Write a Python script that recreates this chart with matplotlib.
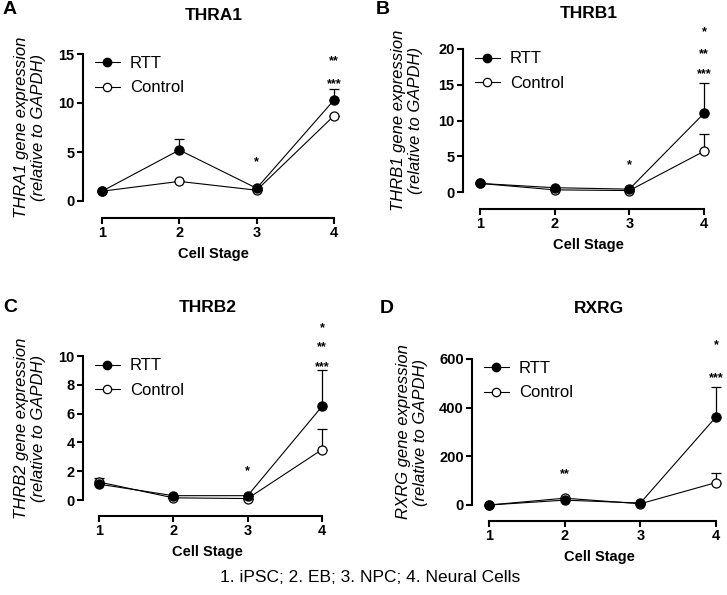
import matplotlib.pyplot as plt
from matplotlib.lines import Line2D
import numpy as np

plt.rcParams['font.family'] = ['Liberation Sans', 'DejaVu Sans']

stages = [1, 2, 3, 4]

# panel A - THRA1
thra1_rtt = [1.0, 5.2, 1.3, 10.3]
thra1_rtt_err = [0.0, 1.1, 0.0, 1.1]
thra1_ctrl = [1.0, 2.0, 1.1, 8.7]
thra1_ctrl_err = [0.0, 0.0, 0.0, 0.0]
thra1_stars = [(3, 4.0, '*'), (4, 14.3, '**'), (4, 11.9, '***')]

# panel B - THRB1
thrb1_rtt = [1.2, 0.6, 0.4, 11.0]
thrb1_rtt_err = [0.0, 0.0, 0.0, 4.3]
thrb1_ctrl = [1.2, 0.3, 0.2, 5.7]
thrb1_ctrl_err = [0.0, 0.0, 0.0, 2.4]
thrb1_stars = [(3, 3.8, '*'), (4, 22.4, '*'), (4, 19.3, '**'), (4, 16.5, '***')]

# panel C - THRB2
thrb2_rtt = [1.1, 0.3, 0.3, 6.5]
thrb2_rtt_err = [0.0, 0.0, 0.0, 2.5]
thrb2_ctrl = [1.25, 0.15, 0.1, 3.5]
thrb2_ctrl_err = [0.3, 0.0, 0.0, 1.45]
thrb2_stars = [(3, 2.0, '*'), (4, 11.9, '*'), (4, 10.6, '**'), (4, 9.2, '***')]

# panel D - RXRG
rxrg_rtt = [0.0, 20.0, 8.0, 362.0]
rxrg_rtt_err = [0.0, 0.0, 0.0, 123.0]
rxrg_ctrl = [0.0, 28.0, 5.0, 92.0]
rxrg_ctrl_err = [0.0, 0.0, 0.0, 41.0]
rxrg_stars = [(2, 125.0, '**'), (4, 655.0, '*'), (4, 520.0, '***')]

W, H = 727, 595
fig = plt.figure(figsize=(W / 100, H / 100), dpi=100)


def panel(letter, title, gene, rtt, rtt_err, ctrl, ctrl_err, stars, yticks,
          x0, t1, t4, py0, pymax, pxaxis, letter_xy, title_y, ylab_x):
    # convert pixel layout to axes rect + limits
    ux = (t4 - t1) / 3.0
    uy = (py0 - pymax) / yticks[-1]
    right = t4 + 10
    top = pymax - 6
    xlim = (1 - (t1 - x0) / ux, 4 + (right - t4) / ux)
    ylim = (-(pxaxis - py0) / uy, yticks[-1] + (pymax - top) / uy)
    ax = fig.add_axes([x0 / W, 1 - pxaxis / H, (right - x0) / W, (pxaxis - top) / H])
    ax.set_xlim(*xlim)
    ax.set_ylim(*ylim)

    ax.errorbar(stages, ctrl, yerr=[np.zeros(4), ctrl_err], color='black', lw=0.8,
                marker='o', ms=6.5, mfc='white', mec='black', mew=0.9,
                capsize=3.5, elinewidth=0.9, capthick=0.9, zorder=3)
    ax.errorbar(stages, rtt, yerr=[np.zeros(4), rtt_err], color='black', lw=0.8,
                marker='o', ms=6.5, mfc='black', mec='black',
                capsize=3.5, elinewidth=0.9, capthick=0.9, zorder=4)

    for sx, sy, s in stars:
        ax.text(sx, sy, s, ha='center', va='center', fontsize=9, fontweight='bold')

    for s in ['top', 'right']:
        ax.spines[s].set_visible(False)
    ax.spines['left'].set_bounds(0, yticks[-1])
    ax.spines['bottom'].set_bounds(1, 4)
    ax.spines['left'].set_linewidth(1.5)
    ax.spines['bottom'].set_linewidth(1.5)
    ax.set_xticks(stages)
    ax.set_yticks(yticks)
    ax.tick_params(width=1.5, length=4, labelsize=10.5, pad=2)
    for lab in ax.get_xticklabels() + ax.get_yticklabels():
        lab.set_fontweight('bold')

    ax.set_xlabel('Cell Stage', fontsize=10.5, fontweight='bold', labelpad=5)

    fig.text(ylab_x / W, 1 - (py0 + pymax) / 2 / H,
             gene + ' gene expression\n(relative to GAPDH)', rotation=90,
             ha='center', va='center', fontsize=12, style='italic',
             linespacing=1.1, multialignment='center')

    handles = [Line2D([], [], color='black', lw=0.8, marker='o', ms=6,
                      mfc='black', mec='black'),
               Line2D([], [], color='black', lw=0.8, marker='o', ms=6,
                      mfc='white', mec='black', mew=0.9)]
    ax.legend(handles, ['RTT', 'Control'], loc='upper left', frameon=False,
              fontsize=12, handlelength=1.5, handletextpad=0.6, labelspacing=0.55,
              bbox_to_anchor=(0.0, 1.02), borderaxespad=0.3)

    fig.text((x0 + right) / 2 / W, 1 - title_y / H, title, ha='center', va='center',
             fontsize=12.5, fontweight='bold')
    fig.text(letter_xy[0] / W, 1 - letter_xy[1] / H, letter, ha='left', va='center',
             fontsize=14, fontweight='bold')
    return ax


panel('A', 'THRA1', 'THRA1', thra1_rtt, thra1_rtt_err, thra1_ctrl, thra1_ctrl_err,
      thra1_stars, [0, 5, 10, 15], 83, 102, 334, 201, 54, 218, (3, 10), 15, 30)
panel('B', 'THRB1', 'THRB1', thrb1_rtt, thrb1_rtt_err, thrb1_ctrl, thrb1_ctrl_err,
      thrb1_stars, [0, 5, 10, 15, 20], 463, 480, 704, 192, 49, 209, (376, 10), 13, 407)
panel('C', 'THRB2', 'THRB2', thrb2_rtt, thrb2_rtt_err, thrb2_ctrl, thrb2_ctrl_err,
      thrb2_stars, [0, 2, 4, 6, 8, 10], 83, 99, 322, 500, 356, 516, (3, 307), 307, 30)
panel('D', 'RXRG', 'RXRG', rxrg_rtt, rxrg_rtt_err, rxrg_ctrl, rxrg_ctrl_err,
      rxrg_stars, [0, 200, 400, 600], 472, 489, 716, 505, 359, 521, (380, 308), 308, 412)

fig.text(370 / W, 1 - 577 / H, '1. iPSC; 2. EB; 3. NPC; 4. Neural Cells',
         ha='center', va='center', fontsize=12.5)

fig.savefig('out.png', dpi=100)
